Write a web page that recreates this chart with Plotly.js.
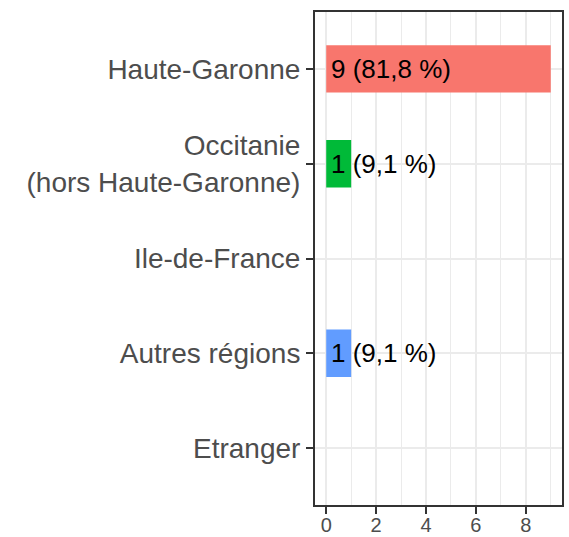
<!DOCTYPE html>
<html>
<head>
<meta charset="utf-8">
<script src="https://cdn.plot.ly/plotly-3.0.1.min.js"></script>
<style>
  html, body { margin: 0; padding: 0; background: #ffffff; }
  #chart { width: 569px; height: 537px; }
</style>
</head>
<body>
<div id="chart"></div>
<script>
// Data
const categories = ["Haute-Garonne", "Occitanie<br>(hors Haute-Garonne)", "Ile-de-France", "Autres régions", "Etranger"];
const counts = [9, 1, 0, 1, 0];
const labels = ["9 (81,8 %)", "1 (9,1 %)", "", "1 (9,1 %)", ""];
const xTicks = [0, 2, 4, 6, 8];

// Styles
const barColors = ["#F8766D", "#00BA38", "#A3A500", "#619CFF", "#E76BF3"];
const fontFam = "Liberation Sans, Arial, Helvetica, sans-serif";

const bars = {
  type: "bar",
  orientation: "h",
  x: counts,
  y: categories,
  width: 0.5,
  marker: { color: barColors, line: { width: 0 } },
  hoverinfo: "skip",
  showlegend: false
};

const annotations = [];
counts.forEach((c, i) => {
  if (labels[i]) {
    annotations.push({
      x: 0, y: categories[i], xref: "x", yref: "y",
      text: labels[i], showarrow: false,
      xanchor: "left", yanchor: "middle", xshift: 3,
      font: { family: fontFam, size: 26, color: "#000000" }
    });
  }
});

const layout = {
  width: 569,
  height: 537,
  margin: { l: 315, r: 7, t: 12, b: 32, pad: 0 },
  paper_bgcolor: "#ffffff",
  plot_bgcolor: "#ffffff",
  font: { family: fontFam },
  annotations: annotations,
  xaxis: {
    range: [-0.45, 9.45],
    tickmode: "array",
    tickvals: xTicks,
    ticktext: xTicks.map(String),
    tickfont: { family: fontFam, size: 20, color: "#4D4D4D" },
    ticks: "outside",
    ticklen: 7,
    tickwidth: 2,
    tickcolor: "#333333",
    ticklabelstandoff: -6,
    showgrid: true,
    gridcolor: "#EBEBEB",
    gridwidth: 2,
    minor: { dtick: 1, tick0: 0, showgrid: true, gridcolor: "#EBEBEB", gridwidth: 1, ticks: "" },
    zeroline: false,
    showline: true,
    mirror: true,
    linecolor: "#333333",
    linewidth: 2,
    fixedrange: true
  },
  yaxis: {
    type: "category",
    categoryorder: "array",
    categoryarray: categories,
    range: [4.6, -0.6],
    tickfont: { family: fontFam, size: 28, color: "#4D4D4D" },
    ticks: "outside",
    ticklen: 7,
    tickwidth: 2,
    tickcolor: "#333333",
    showgrid: true,
    gridcolor: "#EBEBEB",
    gridwidth: 2,
    zeroline: false,
    showline: true,
    mirror: true,
    linecolor: "#333333",
    linewidth: 2,
    fixedrange: true
  }
};

Plotly.newPlot("chart", [bars], layout, { displayModeBar: false, staticPlot: true });
</script>
</body>
</html>
